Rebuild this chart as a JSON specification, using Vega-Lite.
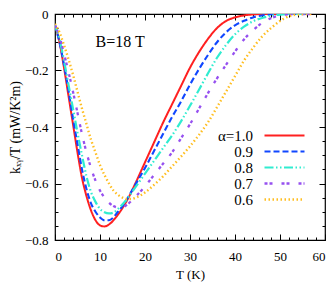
{
  "$schema": "https://vega.github.io/schema/vega-lite/v6.json",
  "width": 270,
  "height": 226,
  "autosize": "none",
  "padding": {"left": 55, "top": 14, "right": 8, "bottom": 44},
  "config": {
    "view": {"stroke": "black", "strokeWidth": 1.2},
    "font": "Liberation Serif",
    "axis": {
      "domain": false,
      "grid": false,
      "labelFont": "Liberation Serif",
      "titleFont": "Liberation Serif",
      "labelFontSize": 13,
      "titleFontSize": 14,
      "labelColor": "black",
      "titleColor": "black",
      "tickColor": "black",
      "labelOverlap": false,
      "titleFontWeight": "normal"
    }
  },
  "datasets": {
    "curves": [
      {"a":"1.0","T":0,"k":-0.04},{"a":"1.0","T":1,"k":-0.1},{"a":"1.0","T":2,"k":-0.19},{"a":"1.0","T":3,"k":-0.29},{"a":"1.0","T":4,"k":-0.39},{"a":"1.0","T":5,"k":-0.49},{"a":"1.0","T":6,"k":-0.58},{"a":"1.0","T":7,"k":-0.645},{"a":"1.0","T":8,"k":-0.695},{"a":"1.0","T":9,"k":-0.73},{"a":"1.0","T":10,"k":-0.748},{"a":"1.0","T":11,"k":-0.752},{"a":"1.0","T":12,"k":-0.745},{"a":"1.0","T":13,"k":-0.73},{"a":"1.0","T":14,"k":-0.71},{"a":"1.0","T":16,"k":-0.66},{"a":"1.0","T":18,"k":-0.595},{"a":"1.0","T":20,"k":-0.525},{"a":"1.0","T":22,"k":-0.455},{"a":"1.0","T":24,"k":-0.385},{"a":"1.0","T":26,"k":-0.32},{"a":"1.0","T":28,"k":-0.255},{"a":"1.0","T":30,"k":-0.19},{"a":"1.0","T":32,"k":-0.135},{"a":"1.0","T":34,"k":-0.088},{"a":"1.0","T":36,"k":-0.05},{"a":"1.0","T":38,"k":-0.025},{"a":"1.0","T":40,"k":-0.012},{"a":"1.0","T":42,"k":-0.005},{"a":"1.0","T":44,"k":-0.0015},{"a":"1.0","T":46,"k":0},{"a":"1.0","T":57,"k":0},
      {"a":"0.9","T":0,"k":-0.04},{"a":"0.9","T":1,"k":-0.1},{"a":"0.9","T":2,"k":-0.18},{"a":"0.9","T":3,"k":-0.27},{"a":"0.9","T":4,"k":-0.37},{"a":"0.9","T":5,"k":-0.46},{"a":"0.9","T":6,"k":-0.55},{"a":"0.9","T":7,"k":-0.62},{"a":"0.9","T":8,"k":-0.67},{"a":"0.9","T":9,"k":-0.70},{"a":"0.9","T":10,"k":-0.72},{"a":"0.9","T":11,"k":-0.73},{"a":"0.9","T":12,"k":-0.73},{"a":"0.9","T":13,"k":-0.72},{"a":"0.9","T":14,"k":-0.70},{"a":"0.9","T":15,"k":-0.68},{"a":"0.9","T":16,"k":-0.655},{"a":"0.9","T":18,"k":-0.60},{"a":"0.9","T":20,"k":-0.545},{"a":"0.9","T":22,"k":-0.485},{"a":"0.9","T":24,"k":-0.425},{"a":"0.9","T":26,"k":-0.365},{"a":"0.9","T":28,"k":-0.31},{"a":"0.9","T":30,"k":-0.25},{"a":"0.9","T":32,"k":-0.195},{"a":"0.9","T":34,"k":-0.145},{"a":"0.9","T":36,"k":-0.1},{"a":"0.9","T":38,"k":-0.065},{"a":"0.9","T":40,"k":-0.04},{"a":"0.9","T":42,"k":-0.024},{"a":"0.9","T":44,"k":-0.012},{"a":"0.9","T":46,"k":-0.005},{"a":"0.9","T":48,"k":-0.001},{"a":"0.9","T":50,"k":0},{"a":"0.9","T":57,"k":0},
      {"a":"0.8","T":0,"k":-0.04},{"a":"0.8","T":1,"k":-0.09},{"a":"0.8","T":2,"k":-0.165},{"a":"0.8","T":3,"k":-0.25},{"a":"0.8","T":4,"k":-0.335},{"a":"0.8","T":5,"k":-0.42},{"a":"0.8","T":6,"k":-0.50},{"a":"0.8","T":7,"k":-0.575},{"a":"0.8","T":8,"k":-0.63},{"a":"0.8","T":9,"k":-0.665},{"a":"0.8","T":10,"k":-0.69},{"a":"0.8","T":11,"k":-0.702},{"a":"0.8","T":12,"k":-0.706},{"a":"0.8","T":13,"k":-0.703},{"a":"0.8","T":14,"k":-0.69},{"a":"0.8","T":16,"k":-0.655},{"a":"0.8","T":18,"k":-0.61},{"a":"0.8","T":20,"k":-0.565},{"a":"0.8","T":22,"k":-0.52},{"a":"0.8","T":24,"k":-0.475},{"a":"0.8","T":26,"k":-0.43},{"a":"0.8","T":28,"k":-0.38},{"a":"0.8","T":30,"k":-0.325},{"a":"0.8","T":32,"k":-0.268},{"a":"0.8","T":34,"k":-0.21},{"a":"0.8","T":36,"k":-0.155},{"a":"0.8","T":38,"k":-0.11},{"a":"0.8","T":40,"k":-0.072},{"a":"0.8","T":42,"k":-0.045},{"a":"0.8","T":44,"k":-0.026},{"a":"0.8","T":46,"k":-0.014},{"a":"0.8","T":48,"k":-0.007},{"a":"0.8","T":50,"k":-0.002},{"a":"0.8","T":52,"k":0},{"a":"0.8","T":57,"k":0},
      {"a":"0.7","T":0,"k":-0.04},{"a":"0.7","T":1,"k":-0.08},{"a":"0.7","T":2,"k":-0.14},{"a":"0.7","T":3,"k":-0.205},{"a":"0.7","T":4,"k":-0.275},{"a":"0.7","T":5,"k":-0.35},{"a":"0.7","T":6,"k":-0.425},{"a":"0.7","T":7,"k":-0.49},{"a":"0.7","T":8,"k":-0.545},{"a":"0.7","T":9,"k":-0.59},{"a":"0.7","T":10,"k":-0.625},{"a":"0.7","T":11,"k":-0.65},{"a":"0.7","T":12,"k":-0.668},{"a":"0.7","T":13,"k":-0.68},{"a":"0.7","T":14,"k":-0.685},{"a":"0.7","T":15,"k":-0.685},{"a":"0.7","T":16,"k":-0.675},{"a":"0.7","T":18,"k":-0.645},{"a":"0.7","T":20,"k":-0.61},{"a":"0.7","T":22,"k":-0.57},{"a":"0.7","T":24,"k":-0.53},{"a":"0.7","T":26,"k":-0.49},{"a":"0.7","T":28,"k":-0.44},{"a":"0.7","T":30,"k":-0.39},{"a":"0.7","T":32,"k":-0.335},{"a":"0.7","T":34,"k":-0.28},{"a":"0.7","T":36,"k":-0.228},{"a":"0.7","T":38,"k":-0.18},{"a":"0.7","T":40,"k":-0.133},{"a":"0.7","T":42,"k":-0.09},{"a":"0.7","T":44,"k":-0.058},{"a":"0.7","T":46,"k":-0.032},{"a":"0.7","T":48,"k":-0.015},{"a":"0.7","T":50,"k":-0.005},{"a":"0.7","T":52,"k":-0.001},{"a":"0.7","T":54,"k":0},{"a":"0.7","T":57,"k":0},
      {"a":"0.6","T":0,"k":-0.035},{"a":"0.6","T":1,"k":-0.065},{"a":"0.6","T":2,"k":-0.11},{"a":"0.6","T":3,"k":-0.16},{"a":"0.6","T":4,"k":-0.215},{"a":"0.6","T":5,"k":-0.275},{"a":"0.6","T":6,"k":-0.335},{"a":"0.6","T":7,"k":-0.39},{"a":"0.6","T":8,"k":-0.445},{"a":"0.6","T":9,"k":-0.49},{"a":"0.6","T":10,"k":-0.535},{"a":"0.6","T":11,"k":-0.57},{"a":"0.6","T":12,"k":-0.60},{"a":"0.6","T":13,"k":-0.625},{"a":"0.6","T":14,"k":-0.64},{"a":"0.6","T":15,"k":-0.65},{"a":"0.6","T":16,"k":-0.655},{"a":"0.6","T":17,"k":-0.655},{"a":"0.6","T":18,"k":-0.65},{"a":"0.6","T":20,"k":-0.632},{"a":"0.6","T":22,"k":-0.605},{"a":"0.6","T":24,"k":-0.575},{"a":"0.6","T":26,"k":-0.54},{"a":"0.6","T":28,"k":-0.505},{"a":"0.6","T":30,"k":-0.468},{"a":"0.6","T":32,"k":-0.428},{"a":"0.6","T":34,"k":-0.383},{"a":"0.6","T":36,"k":-0.33},{"a":"0.6","T":38,"k":-0.275},{"a":"0.6","T":40,"k":-0.22},{"a":"0.6","T":42,"k":-0.165},{"a":"0.6","T":44,"k":-0.12},{"a":"0.6","T":46,"k":-0.08},{"a":"0.6","T":48,"k":-0.05},{"a":"0.6","T":50,"k":-0.025},{"a":"0.6","T":52,"k":-0.008},{"a":"0.6","T":54,"k":-0.002},{"a":"0.6","T":56,"k":0},{"a":"0.6","T":57,"k":0}
    ]
  },
  "resolve": {"axis": {"x": "independent", "y": "independent"}},
  "layer": [
    {
      "data": {"name": "curves"},
      "mark": {"type": "line", "interpolate": "monotone", "clip": true},
      "encoding": {
        "x": {
          "field": "T", "type": "quantitative",
          "scale": {"domain": [0, 60], "nice": false},
          "axis": {
            "orient": "bottom", "title": "T (K)", "titleFontSize": 13,
            "values": [0,2,4,6,8,10,12,14,16,18,20,22,24,26,28,30,32,34,36,38,40,42,44,46,48,50,52,54,56,58,60],
            "labelExpr": "datum.value % 10 === 0 ? datum.label : ''",
            "tickSize": {"condition": {"test": "datum.value % 10 === 0", "value": -6}, "value": -3},
            "labelPadding": 16, "titlePadding": 2
          }
        },
        "y": {
          "field": "k", "type": "quantitative",
          "scale": {"domain": [-0.8, 0], "nice": false},
          "axis": {
            "orient": "left", "title": "kₓᵧ/T (mW/K²m)",
            "values": [0,-0.05,-0.1,-0.15,-0.2,-0.25,-0.3,-0.35,-0.4,-0.45,-0.5,-0.55,-0.6,-0.65,-0.7,-0.75,-0.8],
            "labelExpr": "round(datum.value*100) % 20 === 0 ? (datum.value === 0 ? '0' : format(datum.value, '.1f')) : ''",
            "tickSize": {"condition": {"test": "round(datum.value*100) % 20 === 0", "value": -6}, "value": -3},
            "labelPadding": 13, "titlePadding": 2
          }
        },
        "color": {
          "field": "a", "type": "nominal",
          "scale": {"domain": ["1.0","0.9","0.8","0.7","0.6"], "range": ["#ff2020","#1047ff","#30ecd0","#9650f0","#ffbe20"]},
          "legend": {
            "orient": "none", "legendX": 222, "legendY": 114,
            "title": null, "padding": 0,
            "symbolType": "M-5,0H5", "symbolSize": 64, "symbolStrokeWidth": 2,
            "labelAlign": "right", "labelOffset": -39,
            "labelFontSize": 15, "labelFont": "Liberation Serif", "labelColor": "black",
            "rowPadding": -1,
            "labelExpr": "datum.label === '1.0' ? 'α=1.0' : datum.label"
          }
        },
        "strokeDash": {
          "field": "a", "type": "nominal",
          "scale": {"domain": ["1.0","0.9","0.8","0.7","0.6"], "range": [[1,0],[6,3],[9,2.5,1.5,2.5,1.5,2.5],[3,2,3,9],[1.5,2.5]]}
        },
        "strokeWidth": {
          "field": "a", "type": "nominal",
          "scale": {"domain": ["1.0","0.9","0.8","0.7","0.6"], "range": [2,2.4,2,2,1.6]},
          "legend": null
        }
      }
    },
    {
      "data": {"values": [{}]},
      "mark": {"type": "text", "text": "B=18 T", "align": "left", "baseline": "middle", "fontSize": 16, "font": "Liberation Serif", "color": "black"},
      "encoding": {
        "x": {
          "datum": 9, "type": "quantitative",
          "axis": {
            "orient": "top", "title": null, "labels": false,
            "values": [0,2,4,6,8,10,12,14,16,18,20,22,24,26,28,30,32,34,36,38,40,42,44,46,48,50,52,54,56,58,60],
            "tickSize": {"condition": {"test": "datum.value % 10 === 0", "value": -6}, "value": -3}
          }
        },
        "y": {
          "datum": -0.1, "type": "quantitative",
          "axis": {
            "orient": "right", "title": null, "labels": false,
            "values": [0,-0.05,-0.1,-0.15,-0.2,-0.25,-0.3,-0.35,-0.4,-0.45,-0.5,-0.55,-0.6,-0.65,-0.7,-0.75,-0.8],
            "tickSize": {"condition": {"test": "round(datum.value*100) % 20 === 0", "value": -6}, "value": -3}
          }
        }
      }
    }
  ]
}
